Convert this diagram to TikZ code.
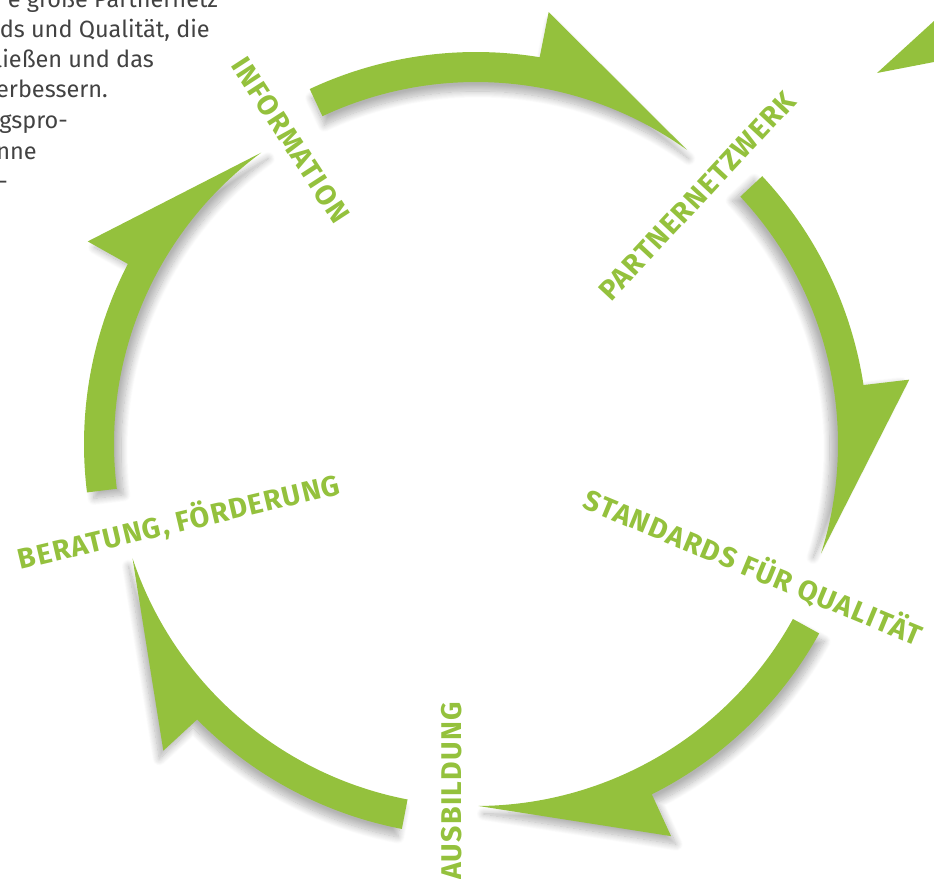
\documentclass[tikz,border=0pt]{standalone}
\usepackage{fontspec}
\setmainfont{Fira Sans}
\usetikzlibrary{calc,shadows.blur}
\definecolor{cgreen}{RGB}{148,193,61}
\definecolor{cgrey}{RGB}{66,66,66}
\newcommand{\cyclearrow}[3]{%
  \fill[cgreen, blur shadow={shadow xshift=#2, shadow yshift=#3, shadow blur radius=7pt, shadow opacity=30, shadow blur steps=14}]
   ($(C)+(#1:392)$) arc[start angle=#1, end angle=#1-34.45, radius=392]
   -- ($(C)+(#1-34.65:438)$) -- ($(C)+(#1-60.7:362)$)
   arc[start angle=#1-60.7, end angle=#1, radius=362] -- cycle;}
\begin{document}
\begin{tikzpicture}[x=1pt,y=1pt,
  lbl/.style={text=cgreen, font=\fontsize{28.5}{29}\selectfont\bfseries\addfontfeatures{LetterSpace=4.5}, inner sep=0pt, text height=20pt, text depth=0pt},
  para/.style={text=cgrey, font=\fontsize{23.5}{28}\selectfont, inner sep=0pt, anchor=base east}]
\useasboundingbox (0,0) rectangle (934,-878);
\clip (0,0) rectangle (934,-878);
\coordinate (C) at (476,-444);
% arrows of the cycle
\cyclearrow{115.1}{2pt}{-9pt}
\cyclearrow{43.1}{-8pt}{-4pt}
\cyclearrow{-28.9}{5pt}{-8pt}
\cyclearrow{-100.9}{-4pt}{-8pt}
\cyclearrow{-172.9}{7pt}{-6pt}
% partial arrow head at the top right
\fill[cgreen] (877,-73) -- (934,-21) -- (934,-62) -- cycle;
% labels
\node[lbl, rotate=-57] (info) at (291,-140) {INFORMATION};
\node[lbl, rotate=47] (partner) at (697,-196) {PARTNERNETZWERK};
\node[lbl, rotate=-22.5] (standards) at (753,-568) {STANDARDS FÜR QUALITÄT};
\node[lbl, rotate=90] (ausbildung) at (451,-791) {AUSBILDUNG};
\node[lbl, rotate=13.3] (beratung) at (179,-522) {BERATUNG, FÖRDERUNG};
% cut paragraph at the top left
\node[para] (p1) at (218,-7) {e große Partnernetz};
\node[para] (p2) at (210,-37) {rds und Qualität, die};
\node[para] (p3) at (154,-67) {ließen und das};
\node[para] (p4) at (108,-97) {erbessern.};
\node[para] (p5) at (68,-128) {gspro-};
\node[para] (p6) at (37,-159) {nne};
\node[para] (p7) at (8,-189) {r-};
\end{tikzpicture}
\end{document}
